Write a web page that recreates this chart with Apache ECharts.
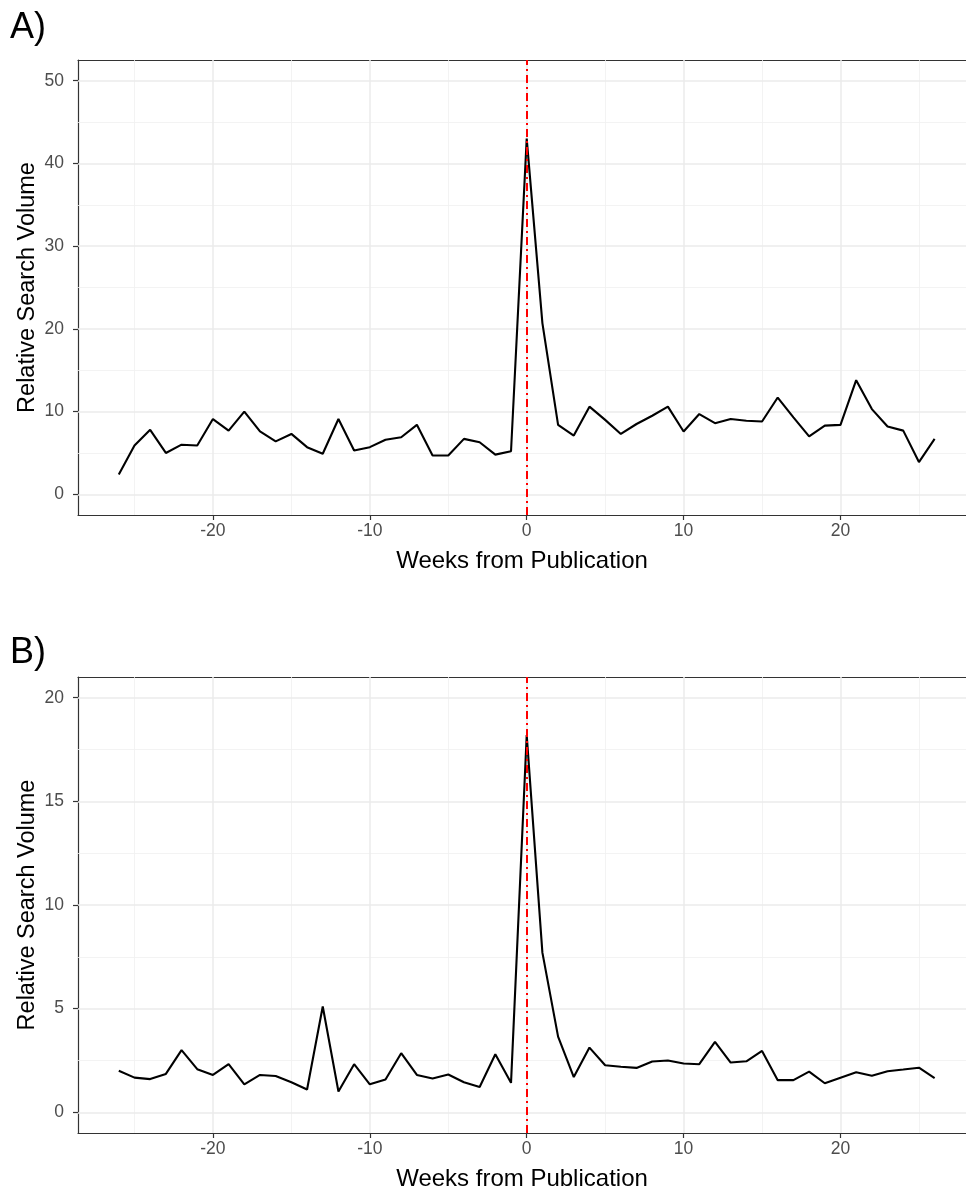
<!DOCTYPE html>
<html>
<head>
<meta charset="utf-8">
<script src="https://cdn.jsdelivr.net/npm/echarts@6/dist/echarts.min.js"></script>
<style>
html,body{margin:0;padding:0;background:#fff;}
#chart{width:966px;height:1188px;}
</style>
</head>
<body>
<div id="chart"></div>
<script>
// ---- data ----
const weeks = [-26,-25,-24,-23,-22,-21,-20,-19,-18,-17,-16,-15,-14,-13,-12,-11,-10,-9,-8,-7,-6,-5,-4,-3,-2,-1,0,1,2,3,4,5,6,7,8,9,10,11,12,13,14,15,16,17,18,19,20,21,22,23,24,25,26];
const volumeA = [2.4,5.9,7.8,5.0,6.0,5.9,9.1,7.7,10.0,7.6, 6.4,7.3,5.7,4.9,9.1,5.3,5.7,6.6,6.9,8.4, 4.7,4.7,6.7,6.3,4.8,5.2, 43.0, 20.7,8.4,7.1,10.6,9.0,7.3,8.5,9.5,10.6,7.6, 9.7,8.6,9.1,8.9,8.8,11.7,9.3,7.0,8.3,8.4, 13.8,10.3,8.2,7.7,3.9,6.7];
const volumeB = [2.0,1.67,1.6,1.85,3.0,2.08,1.8,2.32,1.35,1.8, 1.75,1.45,1.1,5.1,1.0,2.32,1.35,1.58,2.85,1.8, 1.63,1.82,1.45,1.22,2.8,1.42, 18.2, 7.7,3.65,1.7,3.12,2.27,2.2,2.14,2.45,2.5,2.35, 2.32,3.4,2.4,2.46,2.96,1.55,1.55,1.96,1.4,1.67, 1.93,1.76,1.98,2.06,2.15,1.65];
const publicationWeek = 0;
const xTicks = [-20,-10,0,10,20];
const xMinor = [-25,-15,-5,5,15,25];
const xLimits = [-28.6, 28.0];
const yTicksA = [0,10,20,30,40,50];
const yMinorA = [5,15,25,35,45];
const yLimitsA = [-2.5, 52.5];
const yTicksB = [0,5,10,15,20];
const yMinorB = [2.5,7.5,12.5,17.5];
const yLimitsB = [-1, 21];
const panelLabels = ['A)', 'B)'];
const xTitle = 'Weeks from Publication';
const yTitle = 'Relative Search Volume';

// ---- chart ----
const FONT = '"Liberation Sans", Arial, Helvetica, sans-serif';
const BORDER = {color: '#333333', width: 1.2};
const chart = echarts.init(document.getElementById('chart'), null, {renderer: 'canvas'});

function xAxisDef(gridIndex) {
  return {
    type: 'value', gridIndex, min: xLimits[0], max: xLimits[1], position: 'bottom',
    name: xTitle, nameLocation: 'middle', nameGap: 34, nameMoveOverlap: false,
    nameTextStyle: {fontFamily: FONT, fontSize: 24, color: '#000'},
    axisLine: {show: true, onZero: false, lineStyle: BORDER},
    axisTick: {show: true, length: 5, lineStyle: BORDER, customValues: xTicks},
    axisLabel: {fontFamily: FONT, fontSize: 17.5, color: '#4d4d4d', margin: 7, customValues: xTicks},
    splitLine: {show: false}
  };
}
function topAxisDef(gridIndex) {
  return {
    type: 'value', gridIndex, min: xLimits[0], max: xLimits[1], position: 'top',
    axisLine: {show: true, onZero: false, lineStyle: BORDER},
    axisTick: {show: false}, axisLabel: {show: false}, splitLine: {show: false}
  };
}
function yAxisDef(gridIndex, lim, ticks) {
  return {
    type: 'value', gridIndex, min: lim[0], max: lim[1],
    name: yTitle, nameLocation: 'middle', nameGap: 38, nameMoveOverlap: false,
    nameTextStyle: {fontFamily: FONT, fontSize: 23.5, color: '#000'},
    axisLine: {show: true, onZero: false, lineStyle: BORDER},
    axisTick: {show: true, length: 5, lineStyle: BORDER, customValues: ticks},
    axisLabel: {fontFamily: FONT, fontSize: 17.5, color: '#4d4d4d', margin: 14, customValues: ticks},
    splitLine: {show: false}
  };
}
function gridSeries(idx, yMajor, yMinor) {
  const major = {color: '#ebebeb', width: 1.5, type: 'solid'};
  const minor = {color: '#f0f0f0', width: 0.8, type: 'solid'};
  const d = [];
  yMinor.forEach(v => d.push({yAxis: v, lineStyle: minor}));
  xMinor.forEach(v => d.push({xAxis: v, lineStyle: minor}));
  yMajor.forEach(v => d.push({yAxis: v, lineStyle: major}));
  xTicks.forEach(v => d.push({xAxis: v, lineStyle: major}));
  return {
    type: 'line', xAxisIndex: idx, yAxisIndex: idx, data: [], z: 1, silent: true,
    markLine: {silent: true, z: 1, symbol: ['none','none'], label: {show: false}, animation: false, data: d}
  };
}
function dataSeries(idx, values) {
  return {
    type: 'line', xAxisIndex: idx, yAxisIndex: idx, z: 3,
    data: weeks.map((w, i) => [w, values[i]]),
    symbol: 'none', lineStyle: {color: '#000', width: 2.1}, animation: false,
    markLine: {
      silent: true, symbol: ['none','none'], label: {show: false}, animation: false, z: 5,
      lineStyle: {color: '#ff0000', width: 2, type: [8, 4, 2, 4]},
      data: [{xAxis: publicationWeek}]
    }
  };
}

chart.setOption({
  animation: false,
  backgroundColor: '#fff',
  grid: [
    {left: 78, top: 60, right: 0, height: 455, show: false, outerBoundsMode: 'none', containLabel: false},
    {left: 78, top: 677, right: 0, height: 456, show: false, outerBoundsMode: 'none', containLabel: false}
  ],
  xAxis: [xAxisDef(0), xAxisDef(1), topAxisDef(0), topAxisDef(1)],
  yAxis: [yAxisDef(0, yLimitsA, yTicksA), yAxisDef(1, yLimitsB, yTicksB)],
  graphic: [
    {type: 'text', left: 10, top: 10, style: {text: panelLabels[0], font: '36px ' + FONT, fill: '#000'}},
    {type: 'text', left: 10, top: 635, style: {text: panelLabels[1], font: '36px ' + FONT, fill: '#000'}}
  ],
  series: [
    gridSeries(0, yTicksA, yMinorA),
    gridSeries(1, yTicksB, yMinorB),
    dataSeries(0, volumeA),
    dataSeries(1, volumeB)
  ]
});
</script>
</body>
</html>
